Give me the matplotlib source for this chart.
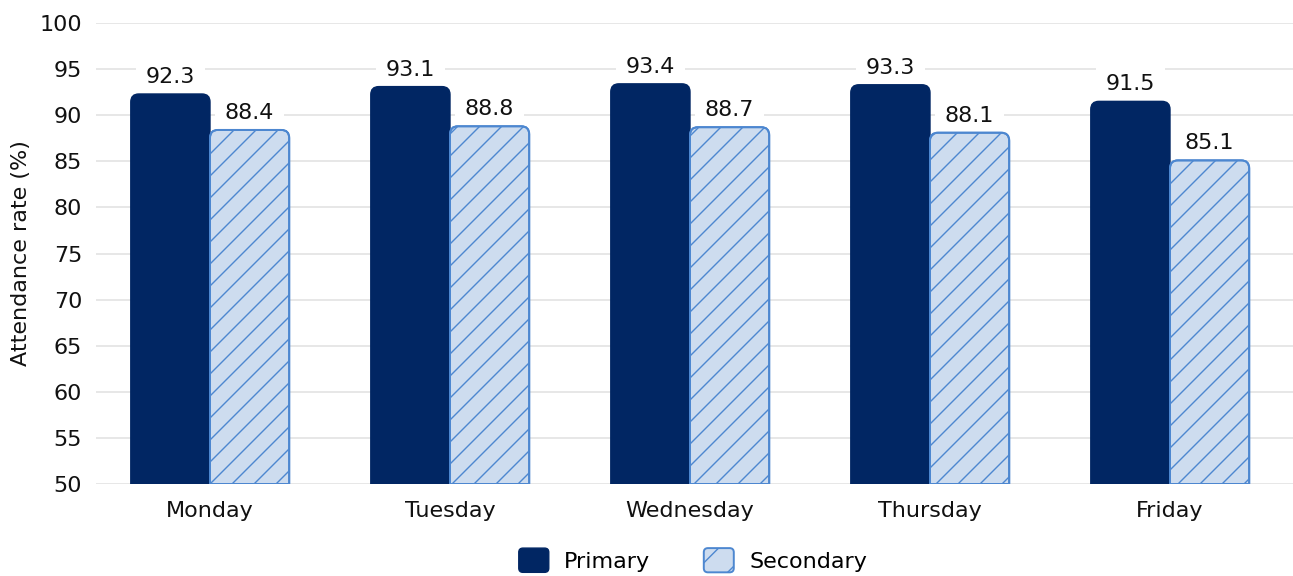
import matplotlib
matplotlib.use("Agg")
import matplotlib.pyplot as plt
import numpy as np
from matplotlib.path import Path
from matplotlib.patches import PathPatch, FancyBboxPatch, Patch
from matplotlib.legend_handler import HandlerPatch

plt.rcParams['font.family'] = ['DejaVu Sans']
plt.rcParams['hatch.linewidth'] = 1.0

days = ["Monday", "Tuesday", "Wednesday", "Thursday", "Friday"]
primary = [92.3, 93.1, 93.4, 93.3, 91.5]
secondary = [88.4, 88.8, 88.7, 88.1, 85.1]
series_names = ["Primary", "Secondary"]
yticks = [50, 55, 60, 65, 70, 75, 80, 85, 90, 95, 100]

NAVY = "#012663"
LIGHT = "#cddcef"
EDGE = "#4d87d0"
GRID = "#e3e3e3"
TXT = "#111111"
FS = 16

W, H = 1293, 576
fig = plt.figure(figsize=(W / 100, H / 100), dpi=100)
left, right, top, bottom = 96, 1293, 23, 484
ax = fig.add_axes([left / W, (H - bottom) / H, (right - left) / W, (bottom - top) / H])

x = np.arange(len(days))
bw = 0.33
ax.set_xlim(-0.475, 4.5125)
ax.set_ylim(50, 100)
ax.set_yticks(yticks)
ax.set_xticks(x)
ax.set_xticklabels(days)
ax.tick_params(axis='both', length=0, labelsize=FS, colors=TXT)
ax.tick_params(axis='x', pad=12)
ax.tick_params(axis='y', pad=10)
ax.set_ylabel("Attendance rate (%)", fontsize=FS, color=TXT, labelpad=6)
for s in ax.spines.values():
    s.set_visible(False)
ax.grid(axis='y', color=GRID, linewidth=1.2)
ax.set_axisbelow(True)

# pixel scale of data units
ppx = (right - left) / (ax.get_xlim()[1] - ax.get_xlim()[0])
ppy = (bottom - top) / (ax.get_ylim()[1] - ax.get_ylim()[0])
r_px = 8
rx, ry = r_px / ppx, r_px / ppy


def top_rounded(x0, x1, y0, y1):
    verts = [(x0, y0), (x0, y1 - ry), (x0, y1), (x0 + rx, y1),
             (x1 - rx, y1), (x1, y1), (x1, y1 - ry), (x1, y0), (x0, y0)]
    codes = [Path.MOVETO, Path.LINETO, Path.CURVE3, Path.CURVE3,
             Path.LINETO, Path.CURVE3, Path.CURVE3, Path.LINETO, Path.CLOSEPOLY]
    return Path(verts, codes)


def value_label(xc, v):
    # white box sits under the bars but over the gridlines
    ax.text(xc, v + 17 / ppy, f"{v:.1f}", ha='center', va='center', fontsize=FS,
            color=TXT, zorder=2,
            bbox=dict(boxstyle='square,pad=0.45', fc='white', ec='none'))


for i in range(len(days)):
    # primary bar
    x0, x1 = x[i] - bw, x[i]
    p = PathPatch(top_rounded(x0, x1, 50, primary[i]), fc=NAVY, ec=NAVY, lw=1, zorder=3)
    ax.add_patch(p)
    value_label((x0 + x1) / 2, primary[i])

    # secondary bar with diagonal hatching
    x0, x1 = x[i], x[i] + bw
    p = PathPatch(top_rounded(x0, x1, 50, secondary[i]), fc=LIGHT, ec=EDGE, lw=1.4, zorder=3)
    ax.add_patch(p)
    spacing = 22 / ppx
    h_units = (secondary[i] - 50) * ppy / ppx
    start = x0 - h_units
    c = np.floor(start / spacing) * spacing
    while c < x1:
        xs = np.array([c, c + h_units + spacing])
        ys = 50 + (xs - c) * ppx / ppy
        ln, = ax.plot(xs, ys, color=EDGE, lw=1.0, zorder=3.5)
        ln.set_clip_path(p)
        c += spacing
    outline = PathPatch(top_rounded(x0, x1, 50, secondary[i]), fc='none', ec=EDGE, lw=1.4, zorder=3.6)
    ax.add_patch(outline)
    value_label((x0 + x1) / 2, secondary[i])


class RoundHandler(HandlerPatch):
    def create_artists(self, legend, orig_handle, xdescent, ydescent, width, height, fontsize, trans):
        b = FancyBboxPatch((-xdescent, -ydescent), width, height,
                           boxstyle="round,pad=0,rounding_size=3",
                           fc=orig_handle.get_facecolor(), ec=orig_handle.get_edgecolor(),
                           lw=orig_handle.get_linewidth(), hatch=orig_handle.get_hatch(),
                           transform=trans)
        return [b]


handles = [Patch(fc=NAVY, ec=NAVY, lw=1), Patch(fc=LIGHT, ec=EDGE, lw=1.4, hatch='/')]
fig.legend(handles, series_names, loc='upper center', bbox_to_anchor=(693 / W, 1 - 537 / H),
           ncol=2, frameon=False, fontsize=FS, handlelength=1.35, handleheight=1.3,
           handletextpad=0.7, columnspacing=2.4, borderpad=0,
           handler_map={Patch: RoundHandler()})

fig.savefig("out.png", dpi=100)
